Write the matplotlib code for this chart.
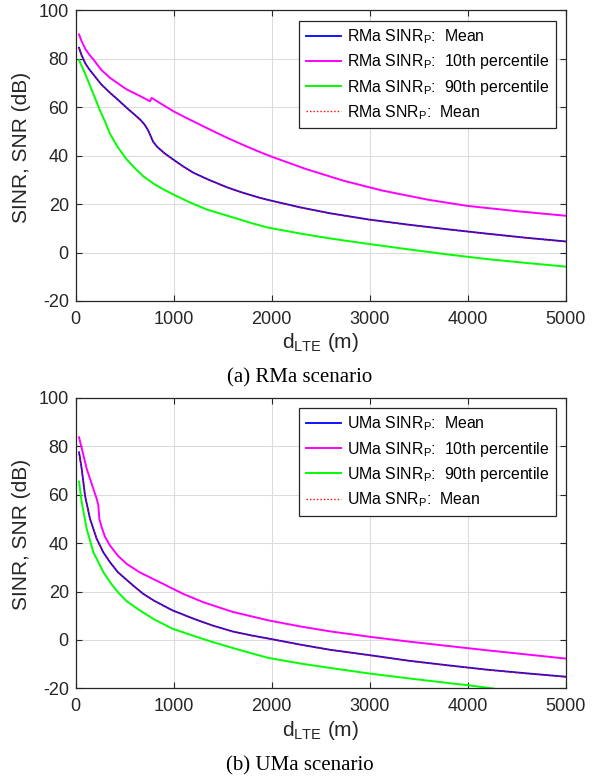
import matplotlib

matplotlib.use("Agg")
import matplotlib.pyplot as plt

# RMa: distance (m) and values (dB)
rma_d = [34, 60, 100, 140, 180, 260, 350, 440, 520, 600, 656, 700, 724, 745, 765, 790, 826, 900, 996,
         1100, 1200, 1350, 1541, 1700, 1881, 2000, 2300, 2600, 3000, 3400, 3800, 4200, 4600, 5000]
rma_mean = [84.6, 81.5, 78.0, 75.6, 73.6, 69.5, 66.0, 62.8, 59.8, 57.0, 55.0, 53.0, 51.5, 50.0, 48.1,
            45.8, 43.9, 41.2, 38.4, 35.5, 33.0, 30.2, 27.0, 24.8, 22.6, 21.4, 18.6, 16.2, 13.6, 11.5,
            9.6, 7.8, 6.1, 4.6]
rma_snr = [84.5, 81.4, 77.9, 75.5, 73.5, 69.4, 65.9, 62.7, 59.7, 56.9, 54.9, 52.9, 51.4, 49.9, 48.0,
           45.7, 43.8, 41.1, 38.3, 35.4, 32.9, 30.1, 26.9, 24.7, 22.5, 21.3, 18.5, 16.1, 13.5, 11.4,
           9.5, 7.7, 6.0, 4.5]

rma_p10_d = [34, 60, 100, 140, 180, 260, 350, 440, 520, 640, 758, 775, 850, 996, 1100, 1200, 1350,
             1541, 1700, 1881, 2000, 2350, 2740, 3130, 3600, 3993, 4500, 5000]
rma_p10 = [90.1, 87.3, 84.0, 81.7, 79.8, 75.5, 72.2, 69.6, 67.4, 65.0, 62.5, 63.9, 62.0, 58.4, 56.2,
           54.2, 51.2, 47.5, 44.6, 41.5, 39.6, 34.5, 29.6, 25.6, 21.8, 19.3, 17.1, 15.2]

rma_p90_d = [34, 100, 150, 200, 250, 300, 350, 430, 520, 600, 690, 800, 900, 996, 1150, 1336, 1573,
             1800, 1963, 2300, 2600, 3000, 3400, 3800, 4200, 4600, 5000]
rma_p90 = [79.5, 73.5, 68.5, 63.5, 58.5, 54.0, 49.0, 43.5, 38.5, 35.0, 31.5, 28.3, 26.0, 24.0, 21.0,
           17.8, 14.9, 12.1, 10.3, 7.8, 5.8, 3.5, 1.3, -0.8, -2.7, -4.3, -5.8]

# UMa
uma_d = [34, 61, 95, 146, 214, 280, 350, 430, 520, 600, 690, 800, 983, 1200, 1400, 1600, 1800, 1963,
         2300, 2600, 3000, 3400, 3800, 4200, 4600, 5000]
uma_mean = [77.5, 70.7, 59.6, 50.0, 41.8, 36.3, 32.1, 28.0, 24.8, 22.0, 19.0, 16.2, 12.3, 8.8, 5.9,
            3.5, 1.8, 0.6, -2.0, -4.1, -6.3, -8.6, -10.5, -12.3, -13.8, -15.2]
uma_snr = [77.4, 70.6, 59.5, 49.9, 41.7, 36.2, 32.0, 27.9, 24.7, 21.9, 18.9, 16.1, 12.2, 8.7, 5.8,
           3.4, 1.7, 0.5, -2.1, -4.2, -6.4, -8.7, -10.6, -12.4, -13.9, -15.3]

uma_p10_d = [34, 112, 180, 214, 231, 241, 265, 300, 350, 430, 520, 650, 788, 860, 983, 1098, 1300,
             1600, 1963, 2300, 2600, 3000, 3400, 3800, 4200, 4600, 5000]
uma_p10 = [83.7, 70.7, 62.4, 58.3, 55.5, 50.0, 46.5, 42.5, 39.0, 34.8, 31.4, 28.0, 25.2, 23.8, 21.3,
           19.0, 15.6, 11.6, 8.1, 5.5, 3.5, 1.3, -0.7, -2.5, -4.3, -6.0, -7.7]

uma_p90_d = [34, 61, 112, 180, 282, 360, 435, 520, 650, 800, 983, 1200, 1400, 1600, 1800, 1963, 2300,
             2600, 3000, 3400, 3800, 4000, 4266]
uma_p90 = [65.4, 56.9, 45.9, 36.2, 28.0, 23.3, 19.5, 16.0, 12.3, 8.5, 4.7, 1.7, -0.9, -3.3, -5.6,
           -7.4, -9.8, -11.6, -13.9, -15.9, -17.8, -18.7, -20.1]

scenarios = [
    ("RMa", rma_d, rma_mean, rma_snr, rma_p10_d, rma_p10, rma_p90_d, rma_p90, "(a) RMa scenario"),
    ("UMa", uma_d, uma_mean, uma_snr, uma_p10_d, uma_p10, uma_p90_d, uma_p90, "(b) UMa scenario"),
]

SANS = ["Liberation Sans", "DejaVu Sans"]
SERIF = ["Liberation Serif", "DejaVu Serif"]
plt.rcParams["font.family"] = SANS
plt.rcParams["mathtext.fontset"] = "custom"
plt.rcParams["mathtext.rm"] = "Liberation Sans"
plt.rcParams["axes.unicode_minus"] = False
DARK = "#262626"

fig = plt.figure(figsize=(6.0, 7.83), dpi=100)
ax_boxes = [[0.1262, 0.6156, 0.8167, 0.3710], [0.1262, 0.1209, 0.8167, 0.3710]]
cap_y = [1 - 378 / 783, 1 - 765.5 / 783]

for i, (name, d, mean, snr, d10, p10, d90, p90, cap) in enumerate(scenarios):
    ax = fig.add_axes(ax_boxes[i])
    ax.plot(d, mean, color="#0000ff", lw=1.3, label=f"{name} SINR$_\\mathregular{{P}}$:  Mean")
    ax.plot(d10, p10, color="#ff00ff", lw=1.4, label=f"{name} SINR$_\\mathregular{{P}}$:  10th percentile")
    ax.plot(d90, p90, color="#00ff00", lw=1.4, label=f"{name} SINR$_\\mathregular{{P}}$:  90th percentile")
    ax.plot(d, snr, color="#ff0000", lw=1.0, ls=(0, (1, 1.5)), label=f"{name} SNR$_\\mathregular{{P}}$:  Mean")

    ax.set_xlim(0, 5000)
    ax.set_ylim(-20, 100)
    ax.set_xticks(range(0, 5001, 1000))
    ax.set_yticks(range(-20, 101, 20))
    ax.grid(True, color="#dcdcdc", lw=0.8)
    ax.set_axisbelow(True)
    ax.tick_params(direction="in", top=True, right=True, labelsize=13, colors=DARK, length=4)
    ax.tick_params(axis="x", pad=7)
    ax.tick_params(axis="y", pad=5)
    for s in ax.spines.values():
        s.set_color(DARK)
        s.set_linewidth(0.9)
    ax.set_ylabel("SINR, SNR (dB)", fontsize=15, color=DARK)
    ax.yaxis.set_label_coords(-0.092, 0.53)
    ax.set_xlabel("d$_\\mathregular{LTE}$ (m)", fontsize=15, color=DARK)
    ax.xaxis.set_label_coords(0.5, -0.104)

    leg = ax.legend(loc="upper right", bbox_to_anchor=(0.9796, 0.965), borderaxespad=0, fontsize=11.4,
                    fancybox=False, edgecolor=DARK, framealpha=1, handlelength=2.2, labelspacing=0.4,
                    borderpad=0.42, handletextpad=0.37)
    leg.get_frame().set_linewidth(0.9)

    fig.text(0.5, cap_y[i], cap, ha="center", va="center", fontsize=15, family=SERIF)

fig.savefig("out.png", dpi=100)
